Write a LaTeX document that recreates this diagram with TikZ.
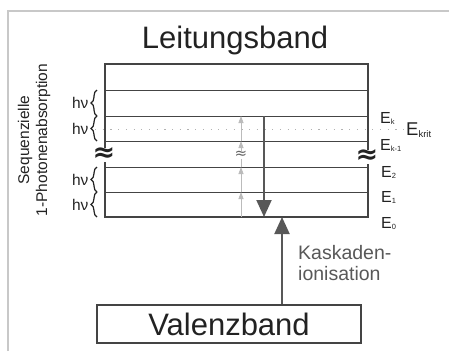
\documentclass[tikz,border=0pt]{standalone}
\usepackage{fontspec}
\setmainfont{Liberation Sans}
\newfontfamily\symfont{DejaVu Sans}
\usetikzlibrary{arrows.meta,decorations.pathreplacing}
\definecolor{bandgray}{HTML}{444444}
\definecolor{arrowgray}{HTML}{585858}
\definecolor{photongray}{HTML}{BBBBBB}
\definecolor{framegray}{HTML}{C8C8C8}
\definecolor{textgray}{HTML}{222222}
\newcommand{\elev}[1]{E\raisebox{-1.5pt}{\fontsize{7.5}{7.5}\selectfont #1}}

\begin{document}
\begin{tikzpicture}[
  x=1pt, y=-1pt,
  every node/.style={inner sep=0pt, text=textgray},
  band/.style={draw=bandgray, line width=1.2pt},
  level/.style={draw=bandgray, line width=1pt},
  photon/.style={draw=photongray, line width=0.8pt, -{Triangle[width=5pt,length=7pt]}},
  cascade/.style={draw=arrowgray, line width=2pt, -{Triangle[width=15pt,length=17pt]}},
  hvbrace/.style={decorate, decoration={brace, amplitude=6pt}, line width=1.2pt, draw=textgray},
  brk/.style={fill=white, font=\symfont\bfseries\fontsize{27}{27}\selectfont},
  elabel/.style={anchor=base west, font=\fontsize{16}{16}\selectfont}
]
\useasboundingbox (0,0) rectangle (449,351);
\draw[framegray, line width=1.2pt] (8,351) -- (8,11) -- (449,11);

\node[anchor=base, font=\fontsize{31}{31}\selectfont] (lb) at (235,48) {Leitungsband};

% levels of the conduction band
\draw[band] (105,64) rectangle (368,217);
\foreach \y/\n in {90/top,116/ek,141/ekm,167/e2,192/e1,217/e0} {
  \coordinate (l\n) at (105,\y);
  \coordinate (r\n) at (368,\y);
  \draw[level] (l\n) -- (r\n);
}
\coordinate (critL) at (95,129);
\coordinate (critR) at (404,129);
\draw[gray!60, line width=0.8pt, dash pattern=on 1.2pt off 6.5pt] (critL) -- (critR);

% photon steps
\coordinate (bx) at (97,0);
\draw[hvbrace] (bx |- lek) -- node[left=8pt, font=\fontsize{15.5}{15.5}\selectfont] (hv1) {hν} (bx |- ltop);
\draw[hvbrace] (bx |- lekm) -- node[left=8pt, font=\fontsize{15.5}{15.5}\selectfont] (hv2) {hν} (bx |- lek);
\draw[hvbrace] (bx |- le1) -- node[left=8pt, font=\fontsize{15.5}{15.5}\selectfont] (hv3) {hν} (bx |- le2);
\draw[hvbrace] (bx |- le0) -- node[left=8pt, font=\fontsize{15.5}{15.5}\selectfont] (hv4) {hν} (bx |- le1);
\node[rotate=90, align=center, font=\fontsize{15.5}{18}\selectfont] (seq) at (34,140)
  {Sequenzielle\\1-Photonenabsorption};

\coordinate (px) at (241,0);
\foreach \a/\b in {e0/e1,e1/e2,e2/ekm,ekm/ek}
  \draw[photon] (px |- l\a) -- (px |- l\b);
\node[fill=white, font=\symfont\fontsize{15}{15}\selectfont, text=black!60] (brkC) at (241,155) {≈};
\node[brk] (brkL) at (104,155) {≈};
\node[brk] (brkR) at (367,157) {≈};

% cascade
\coordinate (dx) at (264,0);
\draw[cascade] (dx |- lek) -- (dx |- le0);
\node[draw=bandgray, line width=1.2pt, minimum width=264pt, minimum height=38pt,
  font=\fontsize{31}{31}\selectfont] (vb) at (229,324) {Valenzband};
\coordinate (ux) at (282,0);
\draw[cascade] (vb.north -| ux) -- (ux |- le0);
\node[anchor=north west, align=left, font=\fontsize{19.5}{21}\selectfont, text=arrowgray]
  (kask) at (298,245) {Kaskaden-\\ionisation};

% energy labels
\node[elabel] (Ek) at (380,123) {\elev{k}};
\node[elabel] (Ekm) at (380,150) {\elev{k-1}};
\node[elabel] (E2) at (381,177) {\elev{2}};
\node[elabel] (E1) at (381,202) {\elev{1}};
\node[elabel] (E0) at (381,228) {\elev{0}};
\node[anchor=base west, font=\fontsize{18.5}{18.5}\selectfont] (Ekrit) at (406,135)
  {E\raisebox{-2pt}{\fontsize{9.5}{9.5}\selectfont krit}};
\end{tikzpicture}
\end{document}
